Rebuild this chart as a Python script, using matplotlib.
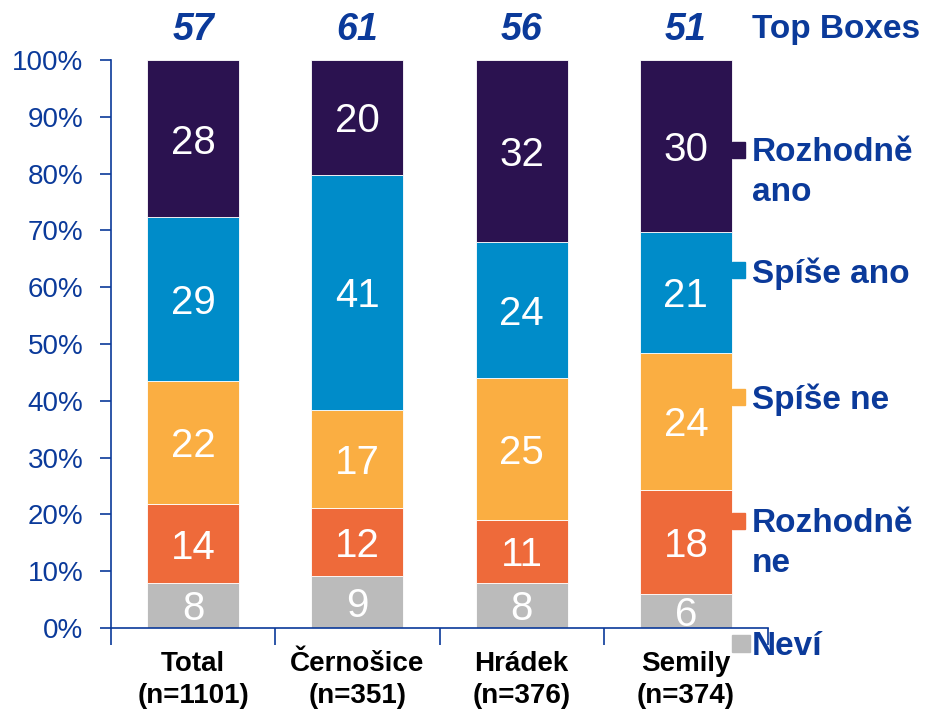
import matplotlib.pyplot as plt
import numpy as np

# Datos
categorias = ['Total\n(n=1101)', 'Černošice\n(n=351)', 'Hrádek\n(n=376)', 'Semily\n(n=374)']
series = ['Neví', 'Rozhodně ne', 'Spíše ne', 'Spíše ano', 'Rozhodně ano']
nevi = [8, 9, 8, 6]
rozhodne_ne = [14, 12, 11, 18]
spise_ne = [22, 17, 25, 24]
spise_ano = [29, 41, 24, 21]
rozhodne_ano = [28, 20, 32, 30]
top_boxes = [57, 61, 56, 51]

colores = ['#BBBBBB', '#EE6A3A', '#FAAE42', '#008CC9', '#2B1250']
azul = '#0B3A9A'

plt.rcParams['font.family'] = ['Liberation Sans', 'DejaVu Sans']

fig = plt.figure(figsize=(9.28, 7.12), dpi=100)
ax = fig.add_axes([0.1196, 0.118, 0.708, 0.7977])

valores = np.array([nevi, rozhodne_ne, spise_ne, spise_ano, rozhodne_ano], dtype=float)
# normalizar cada barra a 100 %
pct = valores / valores.sum(axis=0) * 100
x = np.arange(len(categorias))
base = np.zeros(len(categorias))
for i, nombre in enumerate(series):
    ax.bar(x, pct[i], 0.56, bottom=base, color=colores[i], edgecolor='white', linewidth=0.6, label=nombre)
    for j in range(len(x)):
        ax.text(x[j], base[j] + pct[i][j] / 2, f'{int(valores[i][j])}', ha='center', va='center_baseline',
                color='white', fontsize=29)
    base += pct[i]

# Top boxes
for j in range(len(x)):
    ax.text(x[j], 106.0, str(top_boxes[j]), ha='center', va='center_baseline', color=azul,
            fontsize=27, fontweight='bold', fontstyle='italic', clip_on=False)

# Ejes
ax.set_xlim(-0.5, 3.5)
ax.set_ylim(0, 100)
ax.set_yticks(np.arange(0, 101, 10))
ax.set_yticklabels([f'{v}%' for v in range(0, 101, 10)])
ax.tick_params(axis='y', colors=azul, labelsize=20, length=8, width=1.2, direction='out', pad=12)
ax.set_xticks(np.arange(-0.5, 3.6, 1))
ax.set_xticklabels([])
ax.tick_params(axis='x', colors=azul, length=12, width=1.2, direction='out')
for j, cat in enumerate(categorias):
    ax.text(x[j], -4.0, cat, ha='center', va='top', color='black', fontsize=20,
            fontweight='bold', linespacing=1.3)
for s in ['top', 'right']:
    ax.spines[s].set_visible(False)
for s in ['left', 'bottom']:
    ax.spines[s].set_color(azul)
    ax.spines[s].set_linewidth(1.2)

# Leyenda manual a la derecha
leyenda_y = [-2.8, 18.8, 40.7, 63.0, 84.2]
for i, nombre in enumerate(series):
    if i == 0:
        ax.add_patch(plt.Rectangle((3.28, leyenda_y[i] - 1.5), 0.11, 3.0, color=colores[i], clip_on=False))
    else:
        ax.add_patch(plt.Rectangle((3.28, leyenda_y[i] - 1.4), 0.08, 2.8, color=colores[i], clip_on=False))
    etiqueta = nombre.replace('Rozhodně ', 'Rozhodně\n')
    ax.text(3.40, leyenda_y[i] + 2.3, etiqueta, ha='left', va='top', color=azul, fontsize=24,
            fontweight='bold', linespacing=1.38, clip_on=False)
ax.text(3.40, 106.0, 'Top Boxes', ha='left', va='center_baseline', color=azul, fontsize=24,
        fontweight='bold', clip_on=False)

plt.savefig('out.png', dpi=100)
